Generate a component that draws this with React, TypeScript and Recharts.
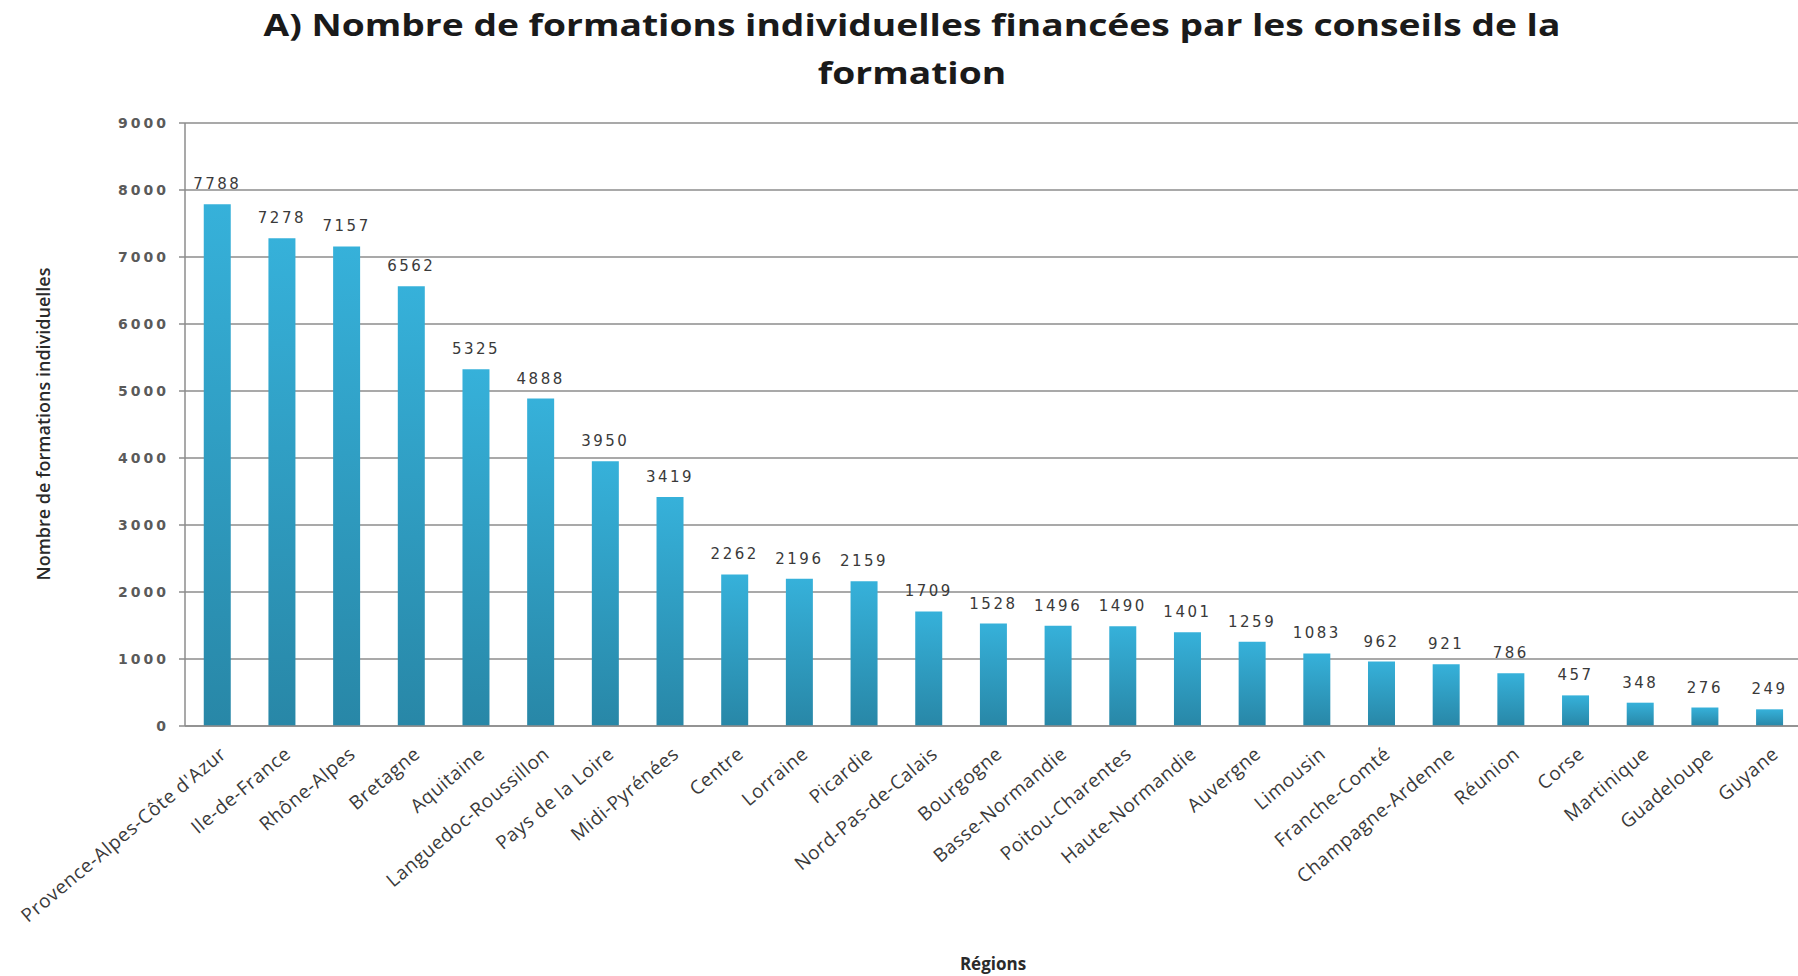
import React from "react";
import { BarChart, Bar, XAxis, YAxis, CartesianGrid, LabelList, Label } from "recharts";

const regions = [
  "Provence-Alpes-Côte d'Azur", "Ile-de-France", "Rhône-Alpes", "Bretagne", "Aquitaine",
  "Languedoc-Roussillon", "Pays de la Loire", "Midi-Pyrénées", "Centre", "Lorraine",
  "Picardie", "Nord-Pas-de-Calais", "Bourgogne", "Basse-Normandie", "Poitou-Charentes",
  "Haute-Normandie", "Auvergne", "Limousin", "Franche-Comté", "Champagne-Ardenne",
  "Réunion", "Corse", "Martinique", "Guadeloupe", "Guyane",
];
const formations = [
  7788, 7278, 7157, 6562, 5325, 4888, 3950, 3419, 2262, 2196, 2159, 1709, 1528, 1496,
  1490, 1401, 1259, 1083, 962, 921, 786, 457, 348, 276, 249,
];
const yTicks = [0, 1000, 2000, 3000, 4000, 5000, 6000, 7000, 8000, 9000];

const titleLine1 = "A) Nombre de formations individuelles financées par les conseils de la";
const titleLine2 = "formation";
const yTitle = "Nombre de formations individuelles";
const xTitle = "Régions";

const data = regions.map((r, i) => ({ region: r, value: formations[i] }));

const XTick = (props: any) => {
  const { x, y, payload } = props;
  return (
    <g transform={`translate(${x + 10},${y + 28}) rotate(-40)`}>
      <text
        x={0}
        y={0}
        textAnchor="end"
        fontFamily="'Open Sans', sans-serif"
        fontSize={19}
        letterSpacing={0.6}
        fill="#3a3a3a"
      >
        {payload.value}
      </text>
    </g>
  );
};

export default function App() {
  return (
    <div
      style={{
        position: "absolute",
        left: 0,
        top: 0,
        width: 1798,
        height: 976,
        overflow: "hidden",
        background: "#ffffff",
      }}
    >
      <div
        style={{
          position: "absolute",
          left: 0,
          width: 1824,
          top: 0,
          textAlign: "center",
          fontFamily: "'Open Sans', sans-serif",
          fontWeight: 700,
          fontSize: 31,
          lineHeight: "48px",
          color: "#1a1a1a",
          transform: "scaleX(1.2)",
          transformOrigin: "912px 0px",
        }}
      >
        <div>{titleLine1}</div>
        <div>{titleLine2}</div>
      </div>
      <div style={{ position: "absolute", left: 0, top: 0 }}>
        <BarChart
          width={1802}
          height={976}
          data={data}
          margin={{ top: 123, right: 0, left: 105, bottom: 0 }}
          barCategoryGap="29%"
        >
          <defs>
            <linearGradient id="barGrad" x1="0" y1="0" x2="0" y2="1">
              <stop offset="0%" stopColor="#36b1da" />
              <stop offset="100%" stopColor="#2887a7" />
            </linearGradient>
          </defs>
          <CartesianGrid vertical={false} stroke="#8c8c8c" strokeWidth={1.5} />
          <XAxis
            dataKey="region"
            interval={0}
            tickSize={0}
            tickLine={false}
            axisLine={{ stroke: "#8c8c8c", strokeWidth: 1.5 }}
            tick={<XTick />}
            height={250}
          >
            <Label
              content={() => (
                <text
                  x={993}
                  y={970}
                  textAnchor="middle"
                  fontFamily="'Open Sans', sans-serif"
                  fontWeight={700}
                  fontSize={17}
                  fill="#2a2a2a"
                >
                  {xTitle}
                </text>
              )}
            />
          </XAxis>
          <YAxis
            domain={[0, 9000]}
            ticks={yTicks}
            interval={0}
            width={80}
            tickSize={6}
            tickMargin={10}
            axisLine={{ stroke: "#8c8c8c", strokeWidth: 1.5 }}
            tickLine={{ stroke: "#8c8c8c", strokeWidth: 1.5 }}
            tick={{
              fontFamily: "'DejaVu Sans', sans-serif",
              fontSize: 14,
              fontWeight: 700,
              fill: "#5a5a5a",
              letterSpacing: 3,
            }}
          >
            <Label
              content={() => (
                <text
                  x={50}
                  y={424}
                  textAnchor="middle"
                  transform="rotate(-90, 50, 424)"
                  fontFamily="'Open Sans', sans-serif"
                  fontWeight={600}
                  fontSize={18}
                  fill="#2a2a2a"
                >
                  {yTitle}
                </text>
              )}
            />
          </YAxis>
          <Bar dataKey="value" fill="url(#barGrad)" isAnimationActive={false}>
            <LabelList
              dataKey="value"
              position="top"
              offset={15}
              fontFamily="'DejaVu Sans', sans-serif"
              fontSize={15}
              fill="#3a3a3a"
              letterSpacing={2.5}
            />
          </Bar>
        </BarChart>
      </div>
    </div>
  );
}
